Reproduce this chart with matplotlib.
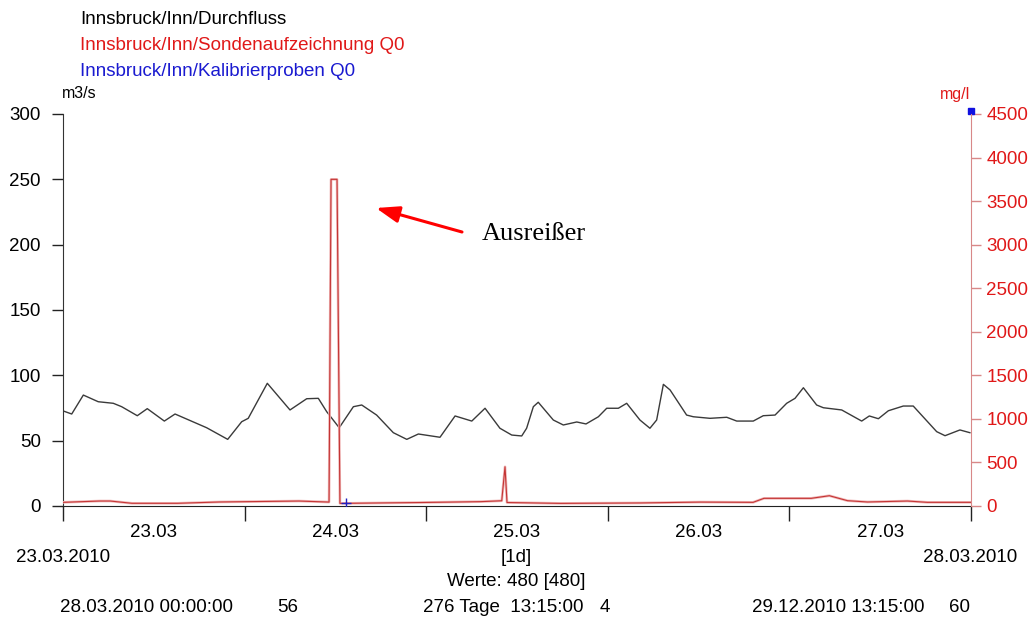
import numpy as np
import matplotlib.pyplot as plt

# Durchfluss (m3/s), x in Tagen ab 23.03.2010 00:00
q_days = [0.002, 0.048, 0.112, 0.194, 0.277, 0.323, 0.409, 0.464, 0.558, 0.617,
          0.791, 0.907, 0.984, 1.020, 1.125, 1.250, 1.342, 1.406, 1.452, 1.521,
          1.599, 1.645, 1.727, 1.819, 1.893, 1.957, 2.076, 2.159, 2.251, 2.324,
          2.406, 2.471, 2.526, 2.553, 2.590, 2.617, 2.700, 2.755, 2.829, 2.880,
          2.948, 2.994, 3.058, 3.104, 3.177, 3.232, 3.269, 3.306, 3.343, 3.434,
          3.471, 3.563, 3.655, 3.710, 3.801, 3.856, 3.921, 3.985, 4.031, 4.077,
          4.150, 4.187, 4.288, 4.398, 4.440, 4.490, 4.545, 4.627, 4.682, 4.811,
          4.857, 4.939, 4.994]
q_vals = [72.7, 70.4, 84.9, 79.8, 78.6, 76.0, 69.1, 74.5, 65.0, 70.4,
          59.9, 51.0, 64.5, 67.1, 93.9, 73.5, 82.1, 82.4, 72.2, 59.9,
          76.0, 77.3, 69.6, 56.1, 51.0, 55.1, 52.6, 68.9, 65.0, 74.8,
          59.5, 54.3, 53.6, 59.5, 76.0, 79.4, 65.8, 62.0, 64.3, 62.8,
          68.3, 74.8, 74.8, 78.6, 65.8, 59.5, 65.8, 93.1, 88.8, 69.6,
          68.3, 67.1, 67.9, 65.0, 65.0, 69.1, 69.6, 78.6, 82.4, 90.5,
          77.3, 75.2, 73.5, 65.0, 68.9, 66.8, 72.9, 76.5, 76.5, 56.9,
          53.8, 58.2, 56.1]

# Sondenaufzeichnung Q0 (mg/l)
s_days = [0.0, 0.20, 0.26, 0.38, 0.63, 0.86, 1.30, 1.465, 1.476, 1.509,
          1.525, 1.97, 2.30, 2.416, 2.434, 2.445, 2.74, 3.18, 3.51, 3.80,
          3.86, 4.00, 4.12, 4.16, 4.22, 4.32, 4.43, 4.65, 4.76, 5.0]
s_vals = [42, 57, 57, 31, 31, 46, 57, 45, 3750, 3750,
          30, 40, 50, 60, 450, 40, 30, 35, 45, 42,
          88, 88, 88, 100, 118, 61, 46, 57, 42, 42]

# Kalibrierproben Q0 (mg/l)
k_days = [1.558]
k_vals = [29]
k_end_day = [5.0]
k_end_val = [4540]

day_labels = ['23.03', '24.03', '25.03', '26.03', '27.03']

W, H = 1036, 619
fig = plt.figure(figsize=(W / 100, H / 100), dpi=100)
ax = fig.add_axes([63 / W, 1 - 506 / H, (971 - 63) / W, (506 - 114) / H])
ax2 = ax.twinx()

font = 'Liberation Sans'
fs = 13.5
red = '#e01818'

ax.plot(q_days, q_vals, color='#3a3a3a', lw=1.0)
ax2.plot(s_days, s_vals, color='#f0b8b8', lw=1.9)
ax2.plot(s_days, s_vals, color='#c43434', lw=0.8)
ax2.plot(k_days, k_vals, '+', color='#2020c0', ms=7, mew=1)
ax2.plot(k_end_day, k_end_val, 's', color='#1010e0', ms=4.5, clip_on=False)

ax.set_xlim(0, 5)
ax.set_ylim(0, 300)
ax2.set_ylim(0, 4500)

ax.set_xticks(range(6))
ax.set_xticklabels([])
ax.set_xticks(np.arange(0.5, 5, 1), minor=True)
ax.set_xticklabels(day_labels, minor=True, fontsize=fs, family=font)
ax.tick_params(axis='x', which='major', length=11, width=1, direction='out', color='#222222')
ax.tick_params(axis='x', which='minor', length=0, pad=13)

ax.set_yticks(range(0, 301, 50))
ax.set_yticklabels([str(v) for v in range(0, 301, 50)], fontsize=fs, family=font)
ax.tick_params(axis='y', length=8, width=1, direction='out', pad=8, color='#222222')

ax2.set_yticks(range(0, 4501, 500))
ax2.set_yticklabels([str(v) for v in range(0, 4501, 500)], fontsize=fs, family=font, color=red)
ax2.tick_params(axis='y', length=7, width=1, direction='out', pad=4, color='#d88888')

for a in (ax, ax2):
    a.spines['top'].set_visible(False)
ax.spines['right'].set_visible(False)
ax2.spines['left'].set_visible(False)
ax2.spines['bottom'].set_visible(False)
ax2.spines['right'].set_color('#d88888')
ax.spines['left'].set_color('#333333')
ax.spines['bottom'].set_color('#222222')

def ftext(x, y, s, **kw):
    kw.setdefault('fontsize', fs)
    kw.setdefault('family', font)
    fig.text(x / W, 1 - y / H, s, va='center', **kw)

ftext(80, 20, 'Innsbruck/Inn/Durchfluss', color='black')
ftext(80, 46, 'Innsbruck/Inn/Sondenaufzeichnung Q0', color=red)
ftext(80, 72, 'Innsbruck/Inn/Kalibrierproben Q0', color='#1a1ad0')
ftext(62, 94, 'm3/s', fontsize=11.5)
ftext(970, 94, 'mg/l', fontsize=11.5, color=red, ha='right')

ftext(63, 557, '23.03.2010', ha='center')
ftext(970, 557, '28.03.2010', ha='center')
ftext(516, 557, '[1d]', ha='center')
ftext(516, 582, 'Werte: 480 [480]', ha='center')
ftext(60, 608, '28.03.2010 00:00:00', ha='left')
ftext(298, 608, '56', ha='right')
ftext(423, 608, '276 Tage  13:15:00', ha='left')
ftext(610, 608, '4', ha='right')
ftext(752, 608, '29.12.2010 13:15:00', ha='left')
ftext(970, 608, '60', ha='right')

# Annotation des Ausreißers
ax.annotate('', xy=(376 / W, 1 - 208 / H), xycoords='figure fraction',
            xytext=(462 / W, 1 - 232 / H), textcoords='figure fraction',
            arrowprops=dict(arrowstyle='-|>,head_length=1.4,head_width=0.5',
                            color='#ff0000', lw=2.2, shrinkA=0, shrinkB=0))
ftext(482, 234, 'Ausreißer', fontsize=19, family='Liberation Serif', ha='left')

fig.savefig('out.png', dpi=100)
